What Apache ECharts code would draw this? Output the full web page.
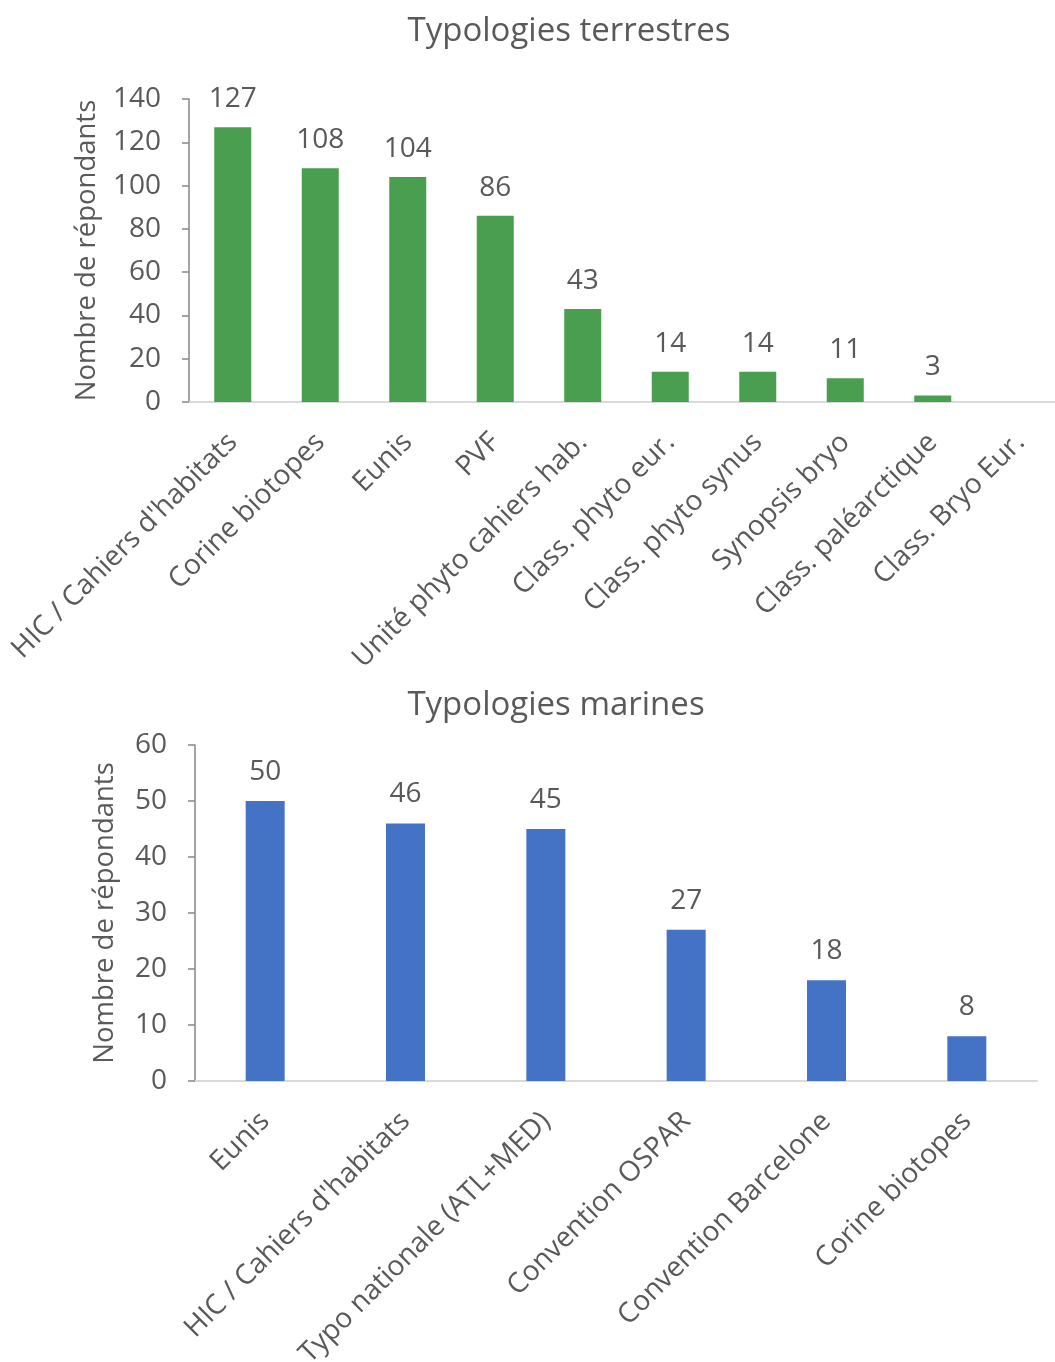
<!DOCTYPE html>
<html>
<head>
<meta charset="utf-8">
<script src="https://cdn.jsdelivr.net/npm/echarts@6/dist/echarts.min.js"></script>
<style>
  html, body { margin: 0; padding: 0; background: #fff; }
  #main { width: 1055px; height: 1362px; }
</style>
</head>
<body>
<div id="main"></div>
<script>
// Typologies terrestres
var terreCats = ['HIC / Cahiers d\'habitats', 'Corine biotopes', 'Eunis', 'PVF', 'Unité phyto cahiers hab.',
  'Class. phyto eur.', 'Class. phyto synus', 'Synopsis bryo', 'Class. paléarctique', 'Class. Bryo Eur.'];
var terreVals = [127, 108, 104, 86, 43, 14, 14, 11, 3, 0];
var terreTicks = [0, 140, 20];

// Typologies marines
var merCats = ['Eunis', 'HIC / Cahiers d\'habitats', 'Typo nationale (ATL+MED)', 'Convention OSPAR',
  'Convention Barcelone', 'Corine biotopes'];
var merVals = [50, 46, 45, 27, 18, 8];
var merTicks = [0, 60, 10];

var txt = '#595959';
var font = '"Open Sans", sans-serif';
var fs = 28;

function yAx(gi, ticks, gap) {
  return {
    type: 'value', gridIndex: gi, min: ticks[0], max: ticks[1], interval: ticks[2],
    name: 'Nombre de répondants', nameLocation: 'middle', nameGap: gap, nameRotate: 90,
    nameTextStyle: { color: txt, fontSize: 27.5, fontFamily: font },
    axisLine: { show: true, lineStyle: { color: '#868686', width: 1.5 } },
    axisTick: { show: true, inside: false, length: 7, lineStyle: { color: '#868686', width: 1.5 } },
    axisLabel: { color: txt, fontSize: fs, fontFamily: font, margin: 28 },
    splitLine: { show: false }
  };
}

function xAx(gi, cats) {
  return {
    type: 'category', gridIndex: gi, data: cats,
    axisLine: { lineStyle: { color: '#d9d9d9', width: 2 } },
    axisTick: { show: false },
    axisLabel: { color: txt, fontSize: fs, fontFamily: font, rotate: 45, margin: 36, interval: 0 }
  };
}

var myChart = echarts.init(document.getElementById('main'));
myChart.setOption({
  animation: false,
  title: [
    { text: 'Typologies terrestres', left: 564, top: 10, textAlign: 'center',
      textStyle: { color: txt, fontSize: 33, fontWeight: 'normal', fontFamily: font } },
    { text: 'Typologies marines', left: 551, top: 684, textAlign: 'center',
      textStyle: { color: txt, fontSize: 33, fontWeight: 'normal', fontFamily: font } }
  ],
  grid: [
    { left: 189, top: 99, width: 875, height: 303, outerBoundsMode: 'none', containLabel: false },
    { left: 195, top: 745, width: 842, height: 336, outerBoundsMode: 'none', containLabel: false }
  ],
  xAxis: [xAx(0, terreCats), xAx(1, merCats)],
  yAxis: [yAx(0, terreTicks, 88), yAx(1, merTicks, 76)],
  series: [
    {
      type: 'bar', xAxisIndex: 0, yAxisIndex: 0, data: terreVals, barWidth: 37,
      itemStyle: { color: '#4a9e4f' },
      label: {
        show: true, position: 'top', distance: 14, color: txt, fontSize: fs, fontFamily: font,
        formatter: function (p) { return p.value ? p.value : ''; }
      }
    },
    {
      type: 'bar', xAxisIndex: 1, yAxisIndex: 1, data: merVals, barWidth: 39,
      itemStyle: { color: '#4472c4' },
      label: { show: true, position: 'top', distance: 15, color: txt, fontSize: fs, fontFamily: font }
    }
  ]
});
</script>
</body>
</html>
